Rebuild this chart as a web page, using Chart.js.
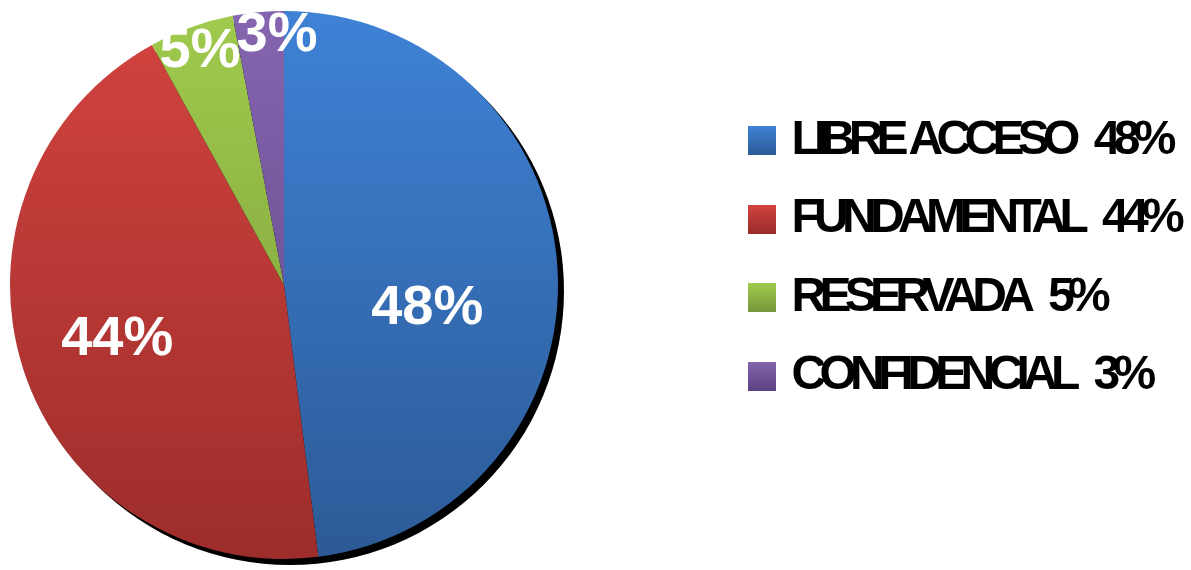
<!DOCTYPE html>
<html><head><meta charset="utf-8">
<script src="https://cdn.jsdelivr.net/npm/chart.js@4.4.1/dist/chart.umd.min.js"></script>
<style>html,body{margin:0;padding:0;background:#fff;overflow:hidden}canvas{display:block}</style>
</head><body>
<canvas id="c" width="1191" height="570"></canvas>
<script>
// ---- data ----
const categories = ['LIBRE ACCESO', 'FUNDAMENTAL', 'RESERVADA', 'CONFIDENCIAL'];
const values = [48, 44, 5, 3];
const valueLabels = ['48%', '44%', '5%', '3%'];

// ---- styles ----
const sliceTop = ['#3E82D6', '#D3433F', '#A0CB4D', '#8565AF'];
const sliceBottom = ['#2C5A96', '#9C2D2B', '#76963A', '#5C4282'];
const labelPlace = [{f: 0.53, da: 13}, {f: 0.64, da: 0}, {f: 0.905, da: 0}, {f: 0.91, da: 3.8}];

const W = 1191, PIE_CX = 284, RIGHT_PAD = 3;
const legendFamily = '"Liberation Sans", Arial, sans-serif';
const legendFontStr = 'bold 48px ' + legendFamily;
const legendSpacing = -6.7;
const legendTexts = categories.map((c, i) => c + '   ' + valueLabels[i]);

const mctx = document.createElement('canvas').getContext('2d');
mctx.font = legendFontStr;
mctx.letterSpacing = legendSpacing + 'px';
const maxTw = Math.max(...legendTexts.map(t => mctx.measureText(t).width));
const LEG_PAD = 30.5, BOXW = 10;
const legendW = LEG_PAD + BOXW + 24 + maxTw + 10;
const spacerW = Math.max(W - RIGHT_PAD - 2 * PIE_CX - legendW, 2);

// legend swatches with gradient
const swatches = sliceTop.map((top, i) => {
  const cv = document.createElement('canvas');
  cv.width = 28; cv.height = 29;
  const g = cv.getContext('2d');
  const gr = g.createLinearGradient(0, 0, 0, 29);
  gr.addColorStop(0, top); gr.addColorStop(1, sliceBottom[i]);
  g.fillStyle = gr; g.fillRect(0, 0, 28, 29);
  return cv;
});

const pieDecor = {
  id: 'pieDecor',
  beforeLayout(chart) { chart.ctx.letterSpacing = legendSpacing + 'px'; },
  beforeDraw(chart) { chart.ctx.letterSpacing = legendSpacing + 'px'; },
  beforeDatasetsDraw(chart) {
    const ctx = chart.ctx;
    ctx.letterSpacing = '0px';
    const arc = chart.getDatasetMeta(0).data[0];
    if (!arc) return;
    const {x, y, outerRadius} = arc.getProps(['x', 'y', 'outerRadius'], true);
    ctx.save();
    ctx.fillStyle = '#000';
    ctx.beginPath();
    ctx.arc(x + 6, y + 6, outerRadius, 0, Math.PI * 2);
    ctx.fill();
    ctx.restore();
  },
  afterDatasetsDraw(chart) {
    const ctx = chart.ctx;
    const meta = chart.getDatasetMeta(0);
    ctx.save();
    ctx.letterSpacing = '0px';
    ctx.font = 'bold 56px "Liberation Sans", Arial, sans-serif';
    ctx.fillStyle = '#fff';
    ctx.textAlign = 'center';
    ctx.textBaseline = 'middle';
    meta.data.forEach((arc, i) => {
      const p = arc.getProps(['x', 'y', 'startAngle', 'endAngle', 'outerRadius'], true);
      const a = (p.startAngle + p.endAngle) / 2 + labelPlace[i].da * Math.PI / 180;
      const r = p.outerRadius * labelPlace[i].f;
      ctx.fillText(valueLabels[i], p.x + Math.cos(a) * r, p.y + Math.sin(a) * r);
    });
    ctx.restore();
  }
};

new Chart(document.getElementById('c'), {
  type: 'pie',
  data: {
    labels: categories,
    datasets: [{
      data: values,
      borderWidth: 0,
      offset: 0,
      hoverOffset: 0,
      backgroundColor: (ctx) => {
        const i = ctx.dataIndex;
        const chart = ctx.chart, a = chart.chartArea;
        if (!a || i === undefined) return sliceTop[i || 0];
        const cy = (a.top + a.bottom) / 2;
        const r = Math.min(a.right - a.left, a.bottom - a.top) / 2;
        const g = chart.ctx.createLinearGradient(0, cy - r, 0, cy + r);
        g.addColorStop(0, sliceTop[i]);
        g.addColorStop(1, sliceBottom[i]);
        return g;
      }
    }]
  },
  options: {
    responsive: false,
    devicePixelRatio: 1,
    animation: false,
    layout: {padding: {left: 0, right: RIGHT_PAD, top: 11, bottom: 11}},
    plugins: {
      tooltip: {enabled: false},
      // invisible spacer between the pie and the legend
      title: {display: true, position: 'right', weight: 500, text: ' ', color: 'rgba(0,0,0,0)',
              font: {size: 1, lineHeight: 1}, padding: {top: 0, bottom: spacerW - 1}},
      legend: {
        position: 'right',
        align: 'start',
        maxWidth: 800,
        title: {display: true, text: ' ', font: {size: 10, lineHeight: 1}, padding: {top: 0, bottom: 65}},
        labels: {
          usePointStyle: true,
          boxWidth: BOXW,
          boxHeight: 48,
          padding: LEG_PAD,
          color: '#000',
          font: {family: legendFamily, size: 48, weight: 'bold', lineHeight: 1},
          generateLabels: () => legendTexts.map((t, i) => ({
            text: t, fillStyle: sliceTop[i], strokeStyle: 'rgba(0,0,0,0)', lineWidth: 0,
            pointStyle: swatches[i], hidden: false, index: i, datasetIndex: 0, fontColor: '#000'
          }))
        }
      }
    }
  },
  plugins: [pieDecor]
});
</script>
</body></html>
